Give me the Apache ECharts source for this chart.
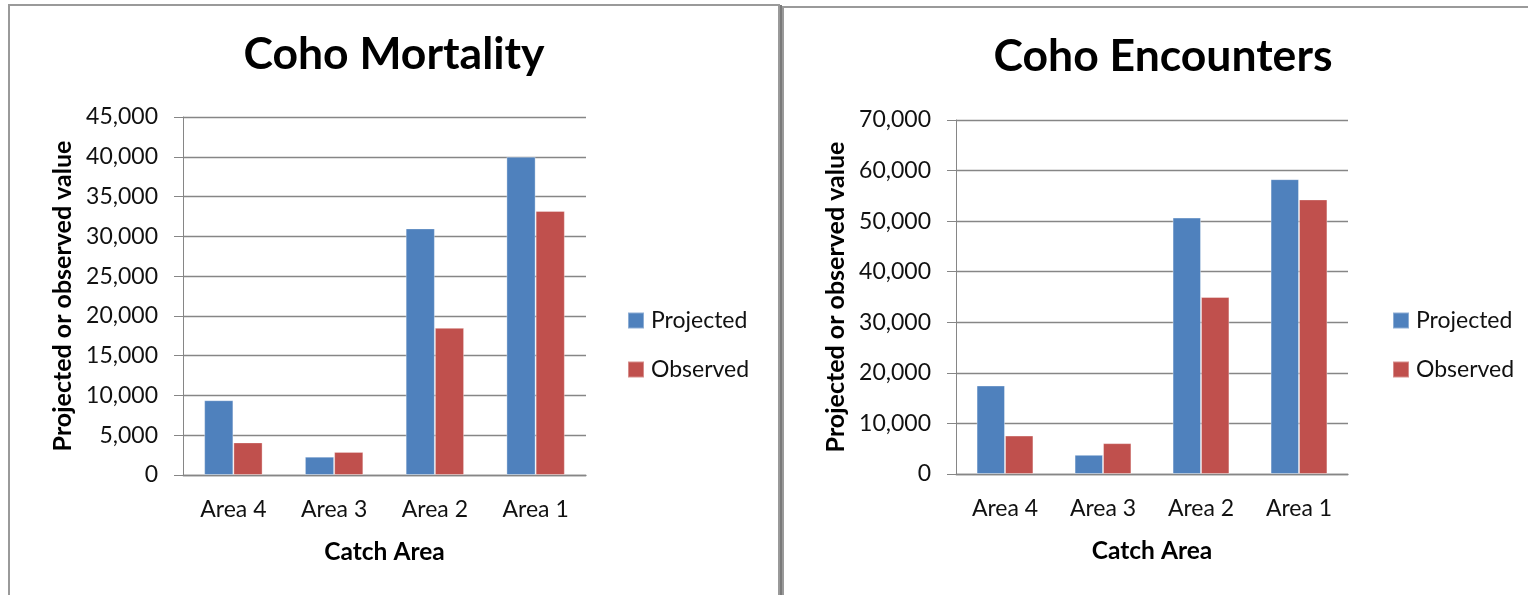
<!DOCTYPE html>
<html>
<head>
<meta charset="utf-8">
<script src="https://cdn.jsdelivr.net/npm/echarts@6/dist/echarts.min.js"></script>
<style>
html,body{margin:0;padding:0;background:#fff;}
#chart{width:1528px;height:595px;}
</style>
</head>
<body>
<div id="chart"></div>
<script>
var categories = ['Area 4', 'Area 3', 'Area 2', 'Area 1'];
var seriesNames = ['Projected', 'Observed'];
var mortalityProjected = [9400, 2300, 31000, 40000];
var mortalityObserved = [4100, 2900, 18500, 33200];
var encountersProjected = [17500, 3800, 50700, 58300];
var encountersObserved = [7600, 6100, 35000, 54300];
var titles = ['Coho Mortality', 'Coho Encounters'];
var yAxisName = 'Projected or observed value';
var xAxisName = 'Catch Area';

var FONT = 'Lato, "DejaVu Sans", sans-serif';
var colors = ['#4F81BD', '#C0504D'];
var gridColor = '#868686';

function fmt(v) { return String(v).replace(/\B(?=(\d{3})+(?!\d))/g, ','); }

function yAxis(idx, max, interval) {
  return {
    type: 'value', gridIndex: idx, min: 0, max: max, interval: interval,
    name: yAxisName, nameLocation: 'middle', nameGap: 108,
    nameTextStyle: { fontFamily: FONT, fontSize: 25, fontWeight: 'bold', color: '#000' },
    axisLine: { show: true, lineStyle: { color: gridColor, width: 1 } },
    axisTick: { show: true, length: 9, lineStyle: { color: gridColor } },
    axisLabel: { margin: 25, fontFamily: FONT, fontSize: 23, color: '#111', formatter: fmt },
    splitLine: { show: true, lineStyle: { color: gridColor, width: 1.3 } }
  };
}
function xAxis(idx) {
  return {
    type: 'category', gridIndex: idx, data: categories,
    name: xAxisName, nameLocation: 'middle', nameGap: 65,
    nameTextStyle: { fontFamily: FONT, fontSize: 24.5, fontWeight: 'bold', color: '#000' },
    axisLine: { show: true, lineStyle: { color: gridColor, width: 1.3 } },
    axisTick: { show: false },
    axisLabel: { margin: 23, fontFamily: FONT, fontSize: 23, color: '#111' }
  };
}
function bar(name, data, idx, color) {
  return {
    type: 'bar', name: name, data: data, xAxisIndex: idx, yAxisIndex: idx,
    barGap: '0%', barCategoryGap: '42%',
    itemStyle: { color: color, borderColor: 'rgba(255,255,255,0.35)', borderWidth: 1 },
    emphasis: { disabled: true }
  };
}
function legend(left) {
  return {
    orient: 'vertical', left: left, top: 309, padding: 0, itemWidth: 16, itemHeight: 16, itemGap: 26,
    icon: 'rect', data: seriesNames,
    textStyle: { fontFamily: FONT, fontSize: 23, color: '#111', lineHeight: 23, padding: [0, 0, 0, 2] }
  };
}

var chart = echarts.init(document.getElementById('chart'), null, { renderer: 'canvas' });
chart.setOption({
  animation: false,
  color: colors,
  title: [
    { text: titles[0], left: 394, top: 55, textAlign: 'center', textVerticalAlign: 'middle', padding: 0,
      textStyle: { fontFamily: FONT, fontSize: 44.5, fontWeight: 'bold', color: '#000' } },
    { text: titles[1], left: 1163, top: 57, textAlign: 'center', textVerticalAlign: 'middle', padding: 0,
      textStyle: { fontFamily: FONT, fontSize: 44.5, fontWeight: 'bold', color: '#000' } }
  ],
  legend: [legend(627), legend(1392)],
  grid: [
    { left: 183, top: 117, width: 403, height: 358 },
    { left: 956, top: 120, width: 392, height: 354 }
  ],
  xAxis: [xAxis(0), xAxis(1)],
  yAxis: [yAxis(0, 45000, 5000), yAxis(1, 70000, 10000)],
  series: [
    bar(seriesNames[0], mortalityProjected, 0, colors[0]),
    bar(seriesNames[1], mortalityObserved, 0, colors[1]),
    bar(seriesNames[0], encountersProjected, 1, colors[0]),
    bar(seriesNames[1], encountersObserved, 1, colors[1])
  ],
  graphic: [
    { type: 'rect', shape: { x: 9, y: 5, width: 770, height: 700 }, style: { fill: 'none', stroke: '#9a9a9a', lineWidth: 2 }, silent: true },
    { type: 'line', shape: { x1: 781, y1: 5, x2: 781, y2: 600 }, style: { stroke: '#7a7a7a', lineWidth: 2 }, silent: true },
    { type: 'rect', shape: { x: 783, y: 7, width: 800, height: 700 }, style: { fill: 'none', stroke: '#9a9a9a', lineWidth: 2 }, silent: true }
  ]
});
</script>
</body>
</html>
